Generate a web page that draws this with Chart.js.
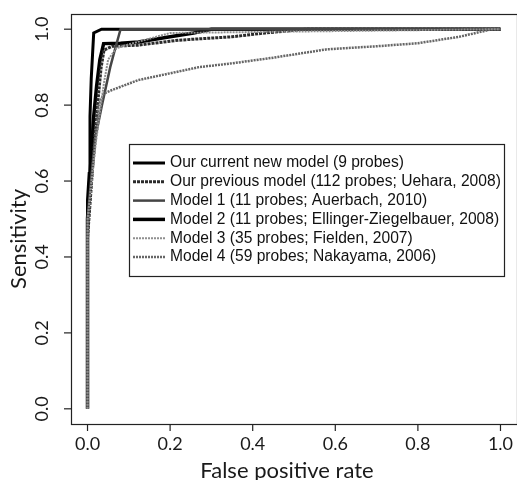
<!DOCTYPE html>
<html>
<head>
<meta charset="utf-8">
<script src="https://cdn.jsdelivr.net/npm/chart.js@4.4.1/dist/chart.umd.min.js"></script>
<style>
  html, body { margin: 0; padding: 0; background: #fff; }
  #wrap { width: 517px; height: 480px; }
</style>
</head>
<body>
<div id="wrap"><canvas id="roc" width="517" height="480"></canvas></div>
<script>
// tick positions and labels
const tickValues = [0, 0.2, 0.4, 0.6, 0.8, 1.0];
const tickLabels = ["0.0", "0.2", "0.4", "0.6", "0.8", "1.0"];

// ROC curves (false positive rate / sensitivity)
const newFpr = [0, 0, 0.004, 0.006, 0.009, 0.012, 0.015, 0.034, 1];
const newTpr = [0, 0.55, 0.62, 0.77, 0.87, 0.93, 0.99, 1.0, 1.0];

const prevFpr = [0, 0, 0.01, 0.018, 0.026, 0.033, 0.04, 0.06, 0.123, 0.22, 0.35, 0.43, 0.53, 1];
const prevTpr = [0, 0.45, 0.6, 0.72, 0.82, 0.9, 0.945, 0.955, 0.958, 0.971, 0.98, 0.99, 1.0, 1.0];

const m1Fpr = [0, 0, 0.01, 0.02, 0.035, 0.045, 0.055, 0.068, 0.075, 0.08, 1];
const m1Tpr = [0, 0.5, 0.62, 0.72, 0.8, 0.85, 0.9, 0.953, 0.98, 1.0, 1.0];

const m2Fpr = [0, 0, 0.008, 0.015, 0.022, 0.03, 0.039, 0.08, 0.123, 0.2, 0.257, 0.3, 1];
const m2Tpr = [0, 0.5, 0.65, 0.77, 0.85, 0.92, 0.962, 0.963, 0.966, 0.98, 0.99, 1.0, 1.0];

const m3Fpr = [0, 0, 0.01, 0.02, 0.03, 0.04, 0.05, 0.07, 0.1, 0.15, 0.2, 1];
const m3Tpr = [0, 0.5, 0.6, 0.7, 0.78, 0.86, 0.92, 0.95, 0.96, 0.975, 0.99, 1.0];

const m4Fpr = [0, 0, 0.007, 0.015, 0.022, 0.027, 0.039, 0.06, 0.123, 0.27, 0.35, 0.45, 0.58, 0.7, 0.8, 0.9, 0.98, 1];
const m4Tpr = [0, 0.45, 0.57, 0.66, 0.74, 0.8, 0.83, 0.84, 0.866, 0.9, 0.91, 0.925, 0.947, 0.955, 0.963, 0.98, 1.0, 1.0];

const seriesNames = [
  "Our current new model (9 probes)",
  "Our previous model (112 probes; Uehara, 2008)",
  "Model 1 (11 probes; Auerbach, 2010)",
  "Model 2 (11 probes; Ellinger-Ziegelbauer, 2008)",
  "Model 3 (35 probes; Fielden, 2007)",
  "Model 4 (59 probes; Nakayama, 2006)"
];

const styles = [
  { color: "#000000", width: 3, dash: [] },
  { color: "#2b2b2b", width: 3, dash: [3, 1] },
  { color: "#454545", width: 2.5, dash: [] },
  { color: "#000000", width: 3.5, dash: [] },
  { color: "#8f8f8f", width: 2, dash: [2, 1] },
  { color: "#666666", width: 2.5, dash: [2, 1] }
];

const curves = [
  [newFpr, newTpr], [prevFpr, prevTpr], [m1Fpr, m1Tpr],
  [m2Fpr, m2Tpr], [m3Fpr, m3Tpr], [m4Fpr, m4Tpr]
];

// draw lighter curves first so the black ones sit on top
const drawOrder = [4, 5, 2, 1, 3, 0];
const datasets = drawOrder.map(i => ({
  label: seriesNames[i],
  data: curves[i][0].map((x, k) => ({ x, y: curves[i][1][k] })),
  borderColor: styles[i].color,
  borderWidth: styles[i].width,
  borderDash: styles[i].dash,
  pointRadius: 0,
  tension: 0,
  fill: false
}));

const tickFont = "18px Lato";
const titleFont = "22px Lato";

const axesPlugin = {
  id: "rAxes",
  afterDraw(chart) {
    const { ctx, chartArea: a } = chart;
    const xs = chart.scales.x, ys = chart.scales.y;
    ctx.save();
    // box
    ctx.strokeStyle = "#222";
    ctx.lineWidth = 1.2;
    ctx.strokeRect(a.left + 0.5, a.top + 0.5, a.right - a.left, a.bottom - a.top);

    ctx.fillStyle = "#1a1a1a";
    ctx.font = tickFont;
    // x ticks
    ctx.textAlign = "center";
    ctx.textBaseline = "middle";
    tickValues.forEach((v, i) => {
      const px = xs.getPixelForValue(v);
      ctx.beginPath();
      ctx.moveTo(px, a.bottom);
      ctx.lineTo(px, a.bottom + 7);
      ctx.stroke();
      ctx.fillText(tickLabels[i], px, a.bottom + 20);
    });
    // y ticks, labels rotated like R
    tickValues.forEach((v, i) => {
      const py = ys.getPixelForValue(v);
      ctx.beginPath();
      ctx.moveTo(a.left, py);
      ctx.lineTo(a.left - 7, py);
      ctx.stroke();
      ctx.save();
      ctx.translate(a.left - 29, py);
      ctx.rotate(-Math.PI / 2);
      ctx.fillText(tickLabels[i], 0, 0);
      ctx.restore();
    });
    // axis titles
    ctx.font = titleFont;
    ctx.fillText("False positive rate", (a.left + a.right) / 2 - 7, a.bottom + 47);
    ctx.save();
    ctx.translate(19, (a.top + a.bottom) / 2 + 20);
    ctx.rotate(-Math.PI / 2);
    ctx.fillText("Sensitivity", 0, 0);
    ctx.restore();

    // legend box
    const lx = 129, ly = 144, lw = 375, lh = 132;
    ctx.fillStyle = "#fff";
    ctx.fillRect(lx, ly, lw, lh);
    ctx.strokeStyle = "#222";
    ctx.lineWidth = 1.2;
    ctx.strokeRect(lx + 0.5, ly + 0.5, lw, lh);
    ctx.font = "15.6px 'Liberation Sans', Arial, sans-serif";
    ctx.textAlign = "left";
    seriesNames.forEach((name, i) => {
      const yy = ly + 19 + i * 18.8;
      ctx.beginPath();
      ctx.strokeStyle = styles[i].color;
      ctx.lineWidth = styles[i].width;
      ctx.setLineDash(styles[i].dash);
      ctx.moveTo(lx + 4, yy);
      ctx.lineTo(lx + 36, yy);
      ctx.stroke();
      ctx.setLineDash([]);
      ctx.fillStyle = "#111";
      ctx.fillText(name, lx + 41, yy);
    });
    ctx.restore();
  }
};

new Chart(document.getElementById("roc"), {
  type: "line",
  data: { datasets },
  options: {
    responsive: false,
    animation: false,
    layout: { padding: { left: 71, top: 14, right: -1, bottom: 56 } },
    plugins: { legend: { display: false }, tooltip: { enabled: false } },
    scales: {
      x: { type: "linear", min: -0.04, max: 1.04, display: false },
      y: { type: "linear", min: -0.04, max: 1.04, display: false }
    }
  },
  plugins: [axesPlugin]
});
</script>
</body>
</html>
